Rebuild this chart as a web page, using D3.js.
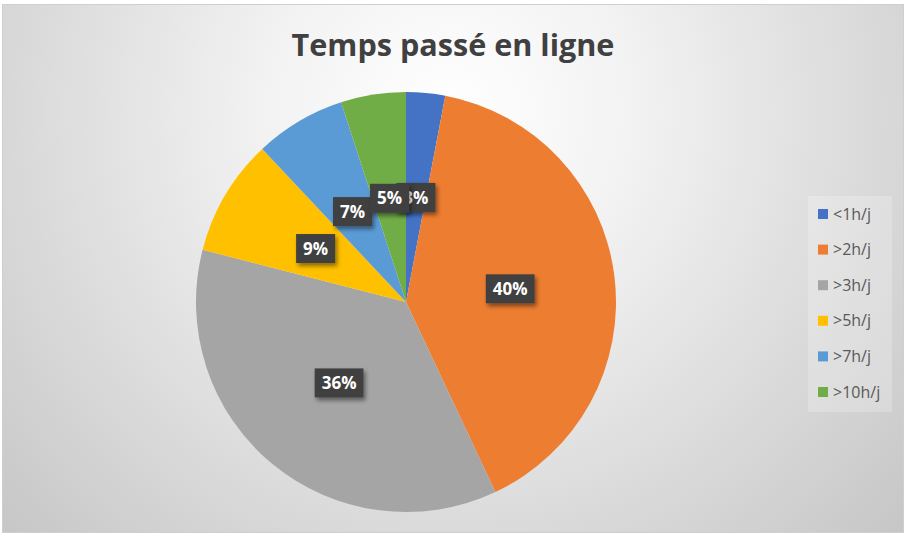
<!DOCTYPE html>
<html>
<head>
<meta charset="utf-8">
<script src="https://cdn.jsdelivr.net/npm/d3@7"></script>
<style>
  html, body { margin: 0; padding: 0; background: #fff; }
  svg { display: block; }
</style>
</head>
<body>
<div id="chart"></div>
<script>
// ---------- data ----------
var categories = ['<1h/j', '>2h/j', '>3h/j', '>5h/j', '>7h/j', '>10h/j'];
var values = [3, 40, 36, 9, 7, 5];
var colors = ['#4472C4', '#ED7D31', '#A5A5A5', '#FFC000', '#5B9BD5', '#70AD47'];
var title = 'Temps passé en ligne';

var W = 906, H = 536, INK = '#404040';
var cx = 406, cy = 302, R = 210;

var svg = d3.select('#chart').append('svg').attr('width', W).attr('height', H);
var defs = svg.append('defs');

var grad = defs.append('radialGradient').attr('id', 'bg').attr('gradientUnits', 'userSpaceOnUse')
  .attr('cx', 450).attr('cy', 110).attr('r', 620).attr('fx', 450).attr('fy', 110);
grad.append('stop').attr('offset', '0%').attr('stop-color', '#ffffff');
grad.append('stop').attr('offset', '30%').attr('stop-color', '#f2f2f2');
grad.append('stop').attr('offset', '100%').attr('stop-color', '#c6c6c6');

var sh = defs.append('filter').attr('id', 'shadow').attr('x', '-30%').attr('y', '-30%').attr('width', '170%').attr('height', '170%');
sh.append('feDropShadow').attr('dx', 2).attr('dy', 3).attr('stdDeviation', 2).attr('flood-color', '#000').attr('flood-opacity', 0.45);

// background + frame
svg.append('rect').attr('x', 2.5).attr('y', 4.5).attr('width', W - 5).attr('height', H - 8)
  .attr('fill', 'url(#bg)').attr('stroke', '#cfcfcf').attr('stroke-width', 1);

// title
var t = svg.append('text').attr('x', 453).attr('y', 56).attr('text-anchor', 'middle')
  .attr('font-family', 'Open Sans, sans-serif').attr('font-weight', 700).attr('font-size', 30)
  .attr('fill', INK).text(title);
var tw = t.node().getComputedTextLength();
if (tw > 0) t.attr('font-size', 30 * 323 / tw);

// ---------- pie ----------
var pie = d3.pie().sort(null).value(function (d) { return d; });
var arcs = pie(values);
var arc = d3.arc().innerRadius(0).outerRadius(R);
var labelArc = d3.arc().innerRadius(R * 0.5).outerRadius(R * 0.5);

var g = svg.append('g').attr('transform', 'translate(' + cx + ',' + cy + ')');
g.selectAll('path').data(arcs).join('path').attr('d', arc).attr('fill', function (d, i) { return colors[i]; });

// labels in series order, later ones overlap earlier ones
var total = d3.sum(values);
var lab = g.append('g');
arcs.forEach(function (d) {
  var p = labelArc.centroid(d);
  var txt = Math.round(d.value / total * 100) + '%';
  var lg = lab.append('g').attr('transform', 'translate(' + p[0] + ',' + p[1] + ')');
  var box = lg.append('rect').attr('fill', '#404040').attr('filter', 'url(#shadow)');
  var tx = lg.append('text').attr('text-anchor', 'middle').attr('dy', '0.36em')
    .attr('font-family', 'Open Sans, sans-serif').attr('font-weight', 700).attr('font-size', 17)
    .attr('fill', '#fff').text(txt);
  var w = tx.node().getComputedTextLength() + 14, h = 29;
  box.attr('x', -w / 2).attr('y', -h / 2).attr('width', w).attr('height', h);
});

// ---------- legend ----------
var leg = svg.append('g');
leg.append('rect').attr('x', 808).attr('y', 196).attr('width', 84).attr('height', 216)
  .attr('fill', '#ffffff').attr('fill-opacity', 0.22);
var ly = d3.scalePoint().domain(categories).range([214, 392]);
categories.forEach(function (c, i) {
  leg.append('rect').attr('x', 818).attr('y', ly(c) - 5).attr('width', 10).attr('height', 10).attr('fill', colors[i]);
  leg.append('text').attr('x', 833).attr('y', ly(c)).attr('dy', '0.35em')
    .attr('font-family', 'Open Sans, sans-serif').attr('font-size', 16).attr('fill', '#595959').text(c);
});
</script>
</body>
</html>
